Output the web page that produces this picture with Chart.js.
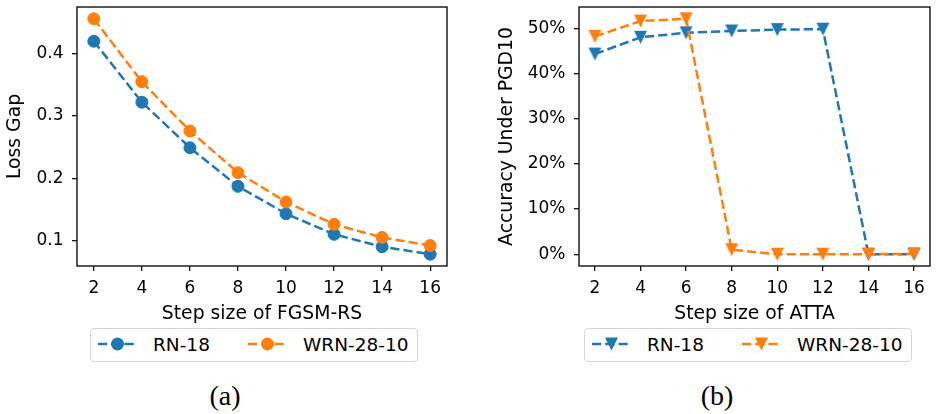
<!DOCTYPE html>
<html>
<head>
<meta charset="utf-8">
<script src="https://cdn.jsdelivr.net/npm/chart.js@4.4.1/dist/chart.umd.min.js"></script>
<style>
  html, body { margin:0; padding:0; background:#fff; }
  body { width:937px; height:414px; position:relative; overflow:hidden; font-family:"DejaVu Sans", sans-serif; }
  canvas { position:absolute; top:0; }
  .legend { position:absolute; top:328px; height:34px; width:328px; box-sizing:border-box;
            border:1.3px solid #d6d6d6; border-radius:4px; background:#fff; }
  .sym { position:absolute; top:336px; }
  .ltxt { position:absolute; top:333.6px; font-size:18.5px; line-height:22px; white-space:nowrap; color:#000; }
  .cap { position:absolute; top:379.6px; width:100px; text-align:center; font-family:"Liberation Serif", serif;
         font-size:28px; line-height:32px; color:#000; }
</style>
</head>
<body>
<canvas id="ca" width="468" height="326" style="left:0px;width:468px;height:326px"></canvas>
<canvas id="cb" width="469" height="326" style="left:468px;width:469px;height:326px"></canvas>

<div class="legend" style="left:90px"></div>
<svg class="sym" style="left:98px" width="40" height="16"><line x1="0" y1="8" x2="39" y2="8" stroke="#1f77b4" stroke-width="2.5" stroke-dasharray="9.25 4"/><circle cx="19.5" cy="8" r="6.5" fill="#1f77b4"/></svg>
<span class="ltxt" style="left:153px">RN-18</span>
<svg class="sym" style="left:248px" width="40" height="16"><line x1="0" y1="8" x2="39" y2="8" stroke="#ff7f0e" stroke-width="2.5" stroke-dasharray="9.25 4"/><circle cx="19.5" cy="8" r="6.5" fill="#ff7f0e"/></svg>
<span class="ltxt" style="left:303px">WRN-28-10</span>

<div class="legend" style="left:584px"></div>
<svg class="sym" style="left:592px" width="40" height="16"><line x1="0" y1="8" x2="39" y2="8" stroke="#1f77b4" stroke-width="2.5" stroke-dasharray="9.25 4"/><path d="M13,1.5 L26,1.5 L19.5,14.5 Z" fill="#1f77b4"/></svg>
<span class="ltxt" style="left:647px">RN-18</span>
<svg class="sym" style="left:742px" width="40" height="16"><line x1="0" y1="8" x2="39" y2="8" stroke="#ff7f0e" stroke-width="2.5" stroke-dasharray="9.25 4"/><path d="M13,1.5 L26,1.5 L19.5,14.5 Z" fill="#ff7f0e"/></svg>
<span class="ltxt" style="left:797px">WRN-28-10</span>

<div class="cap" style="left:175px">(a)</div>
<div class="cap" style="left:667px">(b)</div>

<script>
// ---- data ----
const stepSizes = [2, 4, 6, 8, 10, 12, 14, 16];
const xTickValues = [2, 4, 6, 8, 10, 12, 14, 16];
const lossGapRN18 = [0.420, 0.322, 0.249, 0.187, 0.143, 0.110, 0.090, 0.078];
const lossGapWRN = [0.456, 0.355, 0.276, 0.209, 0.162, 0.126, 0.105, 0.092];
const accRN18 = [44.3, 48.0, 49.0, 49.4, 49.7, 49.8, 0.0, 0.0];
const accWRN = [48.2, 51.6, 52.1, 1.0, 0.0, 0.0, 0.0, 0.1];
const yTicksA = [0.1, 0.2, 0.3, 0.4];
const yTicksB = [0, 10, 20, 30, 40, 50];
const seriesNames = ['RN-18', 'WRN-28-10'];

const BLUE = '#1f77b4', ORANGE = '#ff7f0e';
const FONT = 'DejaVu Sans';

function triMarker(color) {
  const c = document.createElement('canvas');
  c.width = 15; c.height = 15;
  const g = c.getContext('2d');
  g.fillStyle = color;
  g.beginPath(); g.moveTo(1, 1); g.lineTo(14, 1); g.lineTo(7.5, 14); g.closePath(); g.fill();
  return c;
}

function range(arrs) {
  const all = [].concat(...arrs);
  const mn = Math.min(...all), mx = Math.max(...all);
  const m = (mx - mn) * 0.05;
  return [mn - m, mx + m];
}

const framePlugin = {
  id: 'frame',
  afterDatasetsDraw(chart) {
    const a = chart.chartArea, ctx = chart.ctx;
    ctx.save();
    ctx.strokeStyle = '#111';
    ctx.lineWidth = 1.4;
    ctx.strokeRect(a.left, a.top, a.right - a.left, a.bottom - a.top);
    ctx.restore();
  }
};

function makeChart(id, dsets, yR, yTicks, yFmt, yTitle, xTitle, yWidth, padRight, yTitlePad) {
  const xMargin = (stepSizes[stepSizes.length - 1] - stepSizes[0]) * 0.05;
  return new Chart(document.getElementById(id), {
    type: 'line',
    data: { datasets: dsets },
    plugins: [framePlugin],
    options: {
      responsive: false,
      animation: false,
      layout: { padding: { left: 0, right: padRight, top: 1, bottom: 0 } },
      plugins: { legend: { display: false }, tooltip: { enabled: false } },
      scales: {
        x: {
          type: 'linear',
          min: stepSizes[0] - xMargin, max: stepSizes[stepSizes.length - 1] + xMargin,
          afterBuildTicks(s) { s.ticks = xTickValues.map(v => ({ value: v })); },
          afterFit(s) { s.height = 60; s.paddingLeft = 0; s.paddingRight = 0; },
          grid: { display: true, drawOnChartArea: false, drawTicks: true, tickLength: 5, color: '#111', lineWidth: 1.3 },
          border: { display: false },
          ticks: { padding: 7, color: '#000', font: { family: FONT, size: 17 }, maxRotation: 0, autoSkip: false,
                   callback: v => String(v) },
          title: { display: true, text: xTitle, color: '#000', font: { family: FONT, size: 18.8 }, padding: { top: 0, bottom: 0.7 } }
        },
        y: {
          type: 'linear',
          min: yR[0], max: yR[1],
          afterBuildTicks(s) { s.ticks = yTicks.map(v => ({ value: v })); },
          afterFit(s) { s.width = yWidth; s.paddingTop = 0; s.paddingBottom = 0; },
          grid: { display: true, drawOnChartArea: false, drawTicks: true, tickLength: 5, color: '#111', lineWidth: 1.3 },
          border: { display: false },
          ticks: { padding: 8.5, color: '#000', font: { family: FONT, size: 17 }, autoSkip: false, callback: yFmt },
          title: { display: true, text: yTitle, color: '#000', font: { family: FONT, size: 18.8 }, padding: { top: yTitlePad, bottom: 0 } }
        }
      }
    }
  });
}

function ds(label, xs, ys, color, style, order) {
  return {
    label, order,
    data: xs.map((x, i) => ({ x, y: ys[i] })),
    borderColor: color, backgroundColor: color,
    borderWidth: 2.5, borderDash: [9.25, 4], tension: 0, fill: false,
    pointStyle: style, pointRadius: 6, pointBorderWidth: 1, pointBorderColor: color, pointBackgroundColor: color,
    pointHoverRadius: 6
  };
}

makeChart('ca',
  [ds(seriesNames[0], stepSizes, lossGapRN18, BLUE, 'circle', 2),
   ds(seriesNames[1], stepSizes, lossGapWRN, ORANGE, 'circle', 1)],
  range([lossGapRN18, lossGapWRN]), yTicksA, v => v.toFixed(1),
  'Loss Gap', 'Step size of FGSM-RS', 77, 21, 4);

makeChart('cb',
  [ds(seriesNames[0], stepSizes, accRN18, BLUE, triMarker(BLUE), 2),
   ds(seriesNames[1], stepSizes, accWRN, ORANGE, triMarker(ORANGE), 1)],
  range([accRN18, accWRN]), yTicksB, v => Math.round(v) + '%',
  'Accuracy Under PGD10', 'Step size of ATTA', 111, 1, 27.7);
</script>
</body>
</html>
